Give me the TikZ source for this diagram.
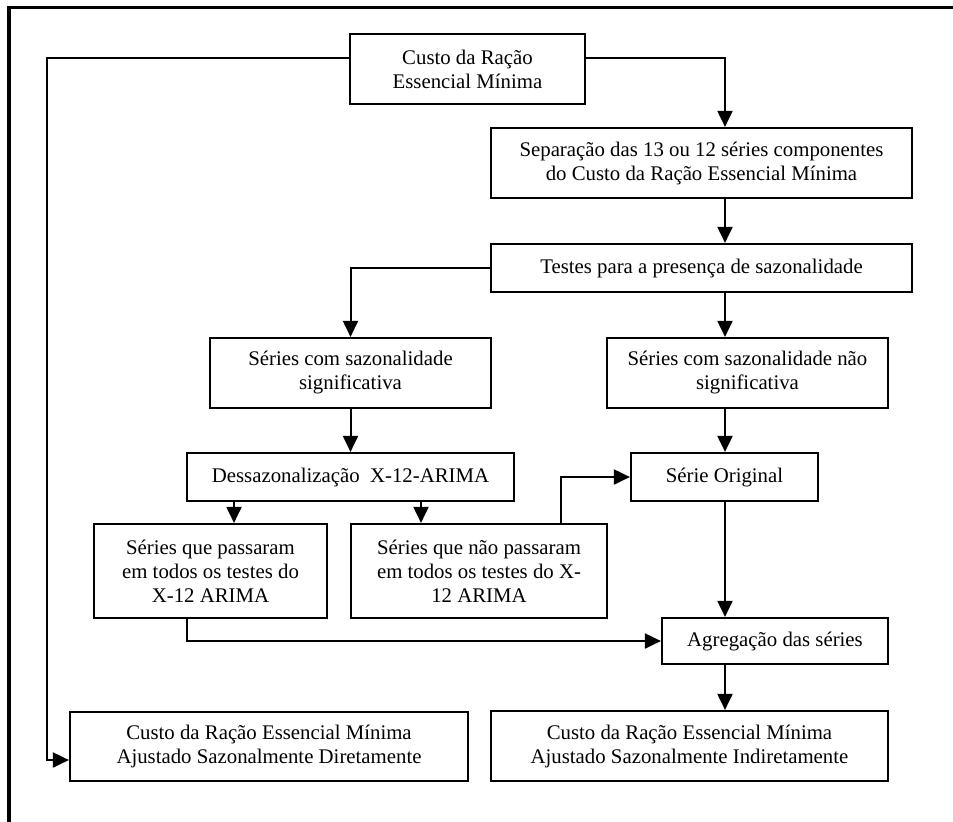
\documentclass[tikz,border=0pt]{standalone}
\usepackage{fontspec}
\setmainfont{Liberation Serif}
\usetikzlibrary{arrows.meta}

\begin{document}
\begin{tikzpicture}[x=0.5pt,y=-0.5pt,font=\fontsize{10.4}{12}\selectfont,
  >={Triangle[length=8pt,width=7.5pt]},
  caixa/.style={draw,line width=1.1pt,align=center,inner sep=2pt},
  seta/.style={->,line width=1pt}]
\useasboundingbox (0,0) rectangle (953,821);
\draw[line width=1.6pt] (960,7.5) -- (9,7.5) -- (9,830);
% caixas
\node[caixa,minimum width=117.5pt,minimum height=35pt] (racao) at (467.5,69) {Custo da Ração\\Essencial Mínima};
\node[caixa,minimum width=210.5pt,minimum height=35pt] (separa) at (701.5,163) {Separação das 13 ou 12 séries componentes\\do Custo da Ração Essencial Mínima};
\node[caixa,minimum width=210.5pt,minimum height=24pt] (testes) at (701.5,268) {Testes para a presença de sazonalidade};
\node[caixa,minimum width=140.5pt,minimum height=35pt] (comsaz) at (350.5,373) {Séries com sazonalidade\\significativa};
\node[caixa,minimum width=140.5pt,minimum height=35pt] (naosaz) at (747.5,373) {Séries com sazonalidade não\\significativa};
\node[caixa,minimum width=163.5pt,minimum height=24pt] (dessaz) at (350.5,477) {Dessazonalização\ \ X-12-ARIMA};
\node[caixa,minimum width=93.5pt,minimum height=24pt] (original) at (724.5,477) {Série Original};
\node[caixa,minimum width=116.5pt,minimum height=47pt] (passou) at (210.5,571) {Séries que passaram\\em todos os testes do\\X-12 ARIMA};
\node[caixa,minimum width=128pt,minimum height=47pt] (naopassou) at (479,571) {Séries que não passaram\\em todos os testes do X-\\12 ARIMA};
\node[caixa,minimum width=113pt,minimum height=23pt] (agrega) at (775,641) {Agregação das séries};
\node[caixa,minimum width=199pt,minimum height=34.5pt] (direto) at (269,746.5) {Custo da Ração Essencial Mínima\\Ajustado Sazonalmente Diretamente};
\node[caixa,minimum width=198.5pt,minimum height=35pt] (indireto) at (689.5,746) {Custo da Ração Essencial Mínima\\Ajustado Sazonalmente Indiretamente};
% pontos de apoio
\coordinate (eixo) at (725,0);
\coordinate (esq) at (47,0);
\coordinate (linhatopo) at (0,58);
\coordinate (linhabase) at (0,760);
\coordinate (d1) at (234,0);
\coordinate (d2) at (421,0);
\coordinate (n1) at (561,0);
\coordinate (p1) at (187,0);
% setas
\draw[seta] (racao.west |- linhatopo) -| (esq |- linhabase) -- (direto.west |- linhabase);
\draw[seta] (racao.east |- linhatopo) -| (eixo |- separa.north);
\draw[seta] (eixo |- separa.south) -- (eixo |- testes.north);
\draw[seta] (testes.west) -| (comsaz.north);
\draw[seta] (eixo |- testes.south) -- (eixo |- naosaz.north);
\draw[seta] (comsaz.south) -- (dessaz.north);
\draw[seta] (eixo |- naosaz.south) -- (eixo |- original.north);
\draw[seta] (d1 |- dessaz.south) -- (d1 |- passou.north);
\draw[seta] (d2 |- dessaz.south) -- (d2 |- naopassou.north);
\draw[seta] (n1 |- naopassou.north) |- (original.west);
\draw[seta] (p1 |- passou.south) |- (agrega.west);
\draw[seta] (eixo |- original.south) -- (eixo |- agrega.north);
\draw[seta] (eixo |- agrega.south) -- (eixo |- indireto.north);
\end{tikzpicture}
\end{document}
